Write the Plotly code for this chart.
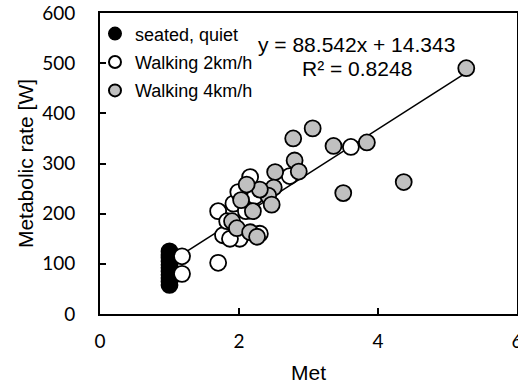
import plotly.graph_objects as go

# Data (Met, Metabolic rate [W])
seated_x = [1.0] * 11
seated_y = [58, 65, 72, 78, 85, 92, 98, 105, 112, 118, 125]

walk2_x = [1.18, 1.18, 1.70, 1.70, 1.77, 1.83, 1.92, 1.99, 2.01, 2.16, 2.23, 2.10, 2.30, 2.73, 3.61, 1.87]
walk2_y = [115, 80, 102, 205, 157, 185, 220, 243, 150, 273, 235, 205, 160, 275, 333, 150]

walk4_x = [5.27, 4.37, 3.50, 3.84, 3.36, 3.06, 2.78, 2.80, 2.86, 2.52, 2.50, 2.42, 2.47, 2.30,
           2.11, 2.20, 2.03, 1.90, 1.97, 2.16, 2.26]
walk4_y = [490, 263, 241, 342, 335, 370, 350, 306, 284, 283, 252, 236, 218, 248,
           258, 205, 227, 185, 171, 163, 154]

SLOPE = 88.542
INTERCEPT = 14.343
R2 = 0.8248

x_ticks = [0, 2, 4, 6]
y_ticks = [0, 100, 200, 300, 400, 500, 600]

all_x = seated_x + walk2_x + walk4_x
fit_x = [min(all_x), max(all_x)]
fit_y = [SLOPE * v + INTERCEPT for v in fit_x]

mk_line = dict(color="black", width=1.8)
fig = go.Figure()
fig.add_trace(go.Scatter(x=fit_x, y=fit_y, mode="lines", line=dict(color="black", width=1.5),
                         showlegend=False, hoverinfo="skip"))
fig.add_trace(go.Scatter(x=seated_x, y=seated_y, mode="markers", name="seated, quiet",
                         legendgroup="a",
                         marker=dict(size=16, color="black", line=mk_line)))
fig.add_trace(go.Scatter(x=walk2_x, y=walk2_y, mode="markers", name="Walking 2km/h",
                         legendgroup="b",
                         marker=dict(size=16, color="white", line=mk_line)))
fig.add_trace(go.Scatter(x=walk4_x, y=walk4_y, mode="markers", name="Walking 4km/h",
                         legendgroup="c",
                         marker=dict(size=16, color="#c0c0c0", line=mk_line)))

fig.add_annotation(x=0.616, y=0.897, xref="paper", yref="paper",
                   text=f"y = {SLOPE}x + {INTERCEPT}", showarrow=False,
                   font=dict(family="Liberation Sans, Arial", size=21, color="black"),
                   xanchor="center", yanchor="middle")
fig.add_annotation(x=0.616, y=0.817, xref="paper", yref="paper",
                   text=f"R² = {R2}", showarrow=False,
                   font=dict(family="Liberation Sans, Arial", size=21, color="black"),
                   xanchor="center", yanchor="middle")

fig.update_layout(
    width=518, height=385,
    margin=dict(l=100, r=1, t=13, b=71, autoexpand=False),
    paper_bgcolor="white", plot_bgcolor="white",
    font=dict(family="Liberation Sans, Arial", color="black"),
    legend=dict(x=-0.012, y=0.992, xanchor="left", yanchor="top",
                bgcolor="rgba(0,0,0,0)", itemsizing="constant",
                traceorder="grouped", tracegroupgap=2,
                font=dict(family="Liberation Sans, Arial", size=18, color="black")),
    xaxis=dict(range=[0, 6], tickvals=x_ticks, ticktext=[str(v) for v in x_ticks],
               ticks="inside", ticklen=6, tickwidth=1.5, tickcolor="black",
               showline=True, linecolor="black", linewidth=2, mirror=True,
               showgrid=False, zeroline=False, ticklabeloverflow="allow",
               automargin=False,
               tickfont=dict(family="Lato", size=19, color="black"),
               ticklabelstandoff=9,
               title=dict(text="Met", font=dict(family="Liberation Sans, Arial", size=21),
                          standoff=15)),
    yaxis=dict(range=[0, 600], tickvals=y_ticks, ticktext=[str(v) for v in y_ticks],
               ticks="inside", ticklen=6, tickwidth=1.5, tickcolor="black",
               showline=True, linecolor="black", linewidth=2, mirror=True,
               showgrid=False, zeroline=False, automargin=False,
               tickfont=dict(family="Lato", size=19, color="black"),
               ticklabelstandoff=19,
               title=dict(text="Metabolic rate [W]",
                          font=dict(family="Liberation Sans, Arial", size=21),
                          standoff=3)),
)
fig.write_html("out.html")
